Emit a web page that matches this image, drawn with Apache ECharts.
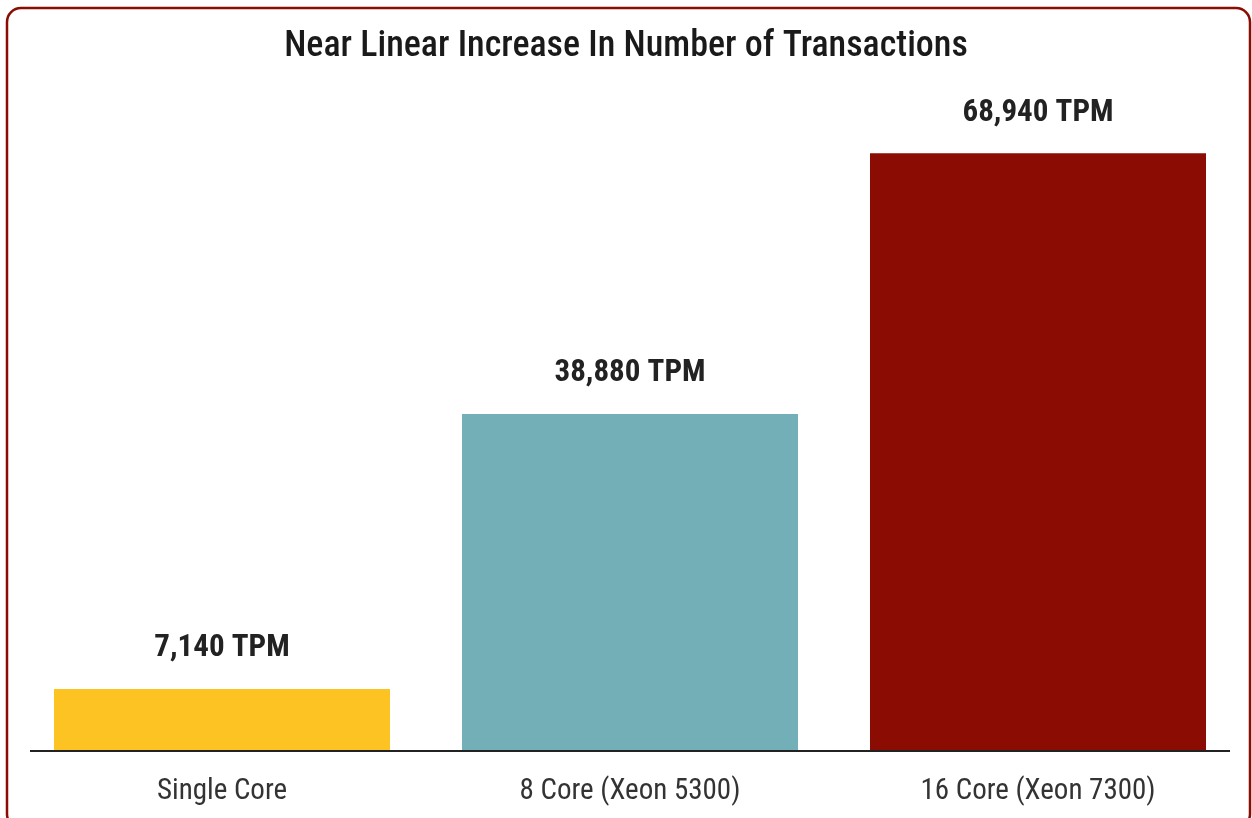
<!DOCTYPE html>
<html><head><meta charset="utf-8">
<script src="https://cdn.jsdelivr.net/npm/echarts@6/dist/echarts.min.js"></script>
<style>html,body{margin:0;padding:0;background:#fff}#c{width:1252px;height:818px}</style>
</head><body><div id="c"></div>
<script>
const categories = ['Single Core', '8 Core (Xeon 5300)', '16 Core (Xeon 7300)'];
const values = [7140, 38880, 68940];
const colors = ['#FDC323', '#73AFB6', '#8B0C02'];
const titleText = 'Near Linear Increase In Number of Transactions';

const FONT = '"Liberation Sans Narrow", "Roboto Condensed", "Liberation Sans", Arial, sans-serif';
const chart = echarts.init(document.getElementById('c'), null, {renderer: 'canvas'});
chart.setOption({
  animation: false,
  backgroundColor: '#fff',
  title: {
    text: titleText, left: 'center', top: 24,
    textStyle: {fontFamily: FONT, fontSize: 36, fontWeight: 500, color: '#1a1a1a'}
  },
  grid: {left: 18, right: 10, top: 60, bottom: 67, containLabel: false},
  xAxis: {
    type: 'category', data: categories,
    axisLine: {show: false}, axisTick: {show: false},
    axisLabel: {fontFamily: FONT, fontSize: 29, color: '#333', margin: 26}
  },
  yAxis: {type: 'value', min: 0, max: 79700, show: false, splitLine: {show: false}},
  series: [{
    type: 'bar', barWidth: 336,
    data: values.map((v, i) => ({value: v, itemStyle: {color: colors[i]}})),
    label: {
      show: true, position: 'top', distance: 25,
      fontFamily: FONT, fontSize: 31, fontWeight: 'bold', color: '#222',
      formatter: p => p.value.toLocaleString('en-US') + ' TPM'
    }
  }],
  graphic: [
    {type: 'line', shape: {x1: 30, y1: 751, x2: 1230, y2: 751}, style: {stroke: '#222', lineWidth: 2}, z: 10},
    {type: 'rect', shape: {x: 7, y: 8, width: 1243, height: 820, r: 14}, style: {fill: 'none', stroke: '#8B0C02', lineWidth: 2.5}, z: 10}
  ]
});
</script></body></html>
